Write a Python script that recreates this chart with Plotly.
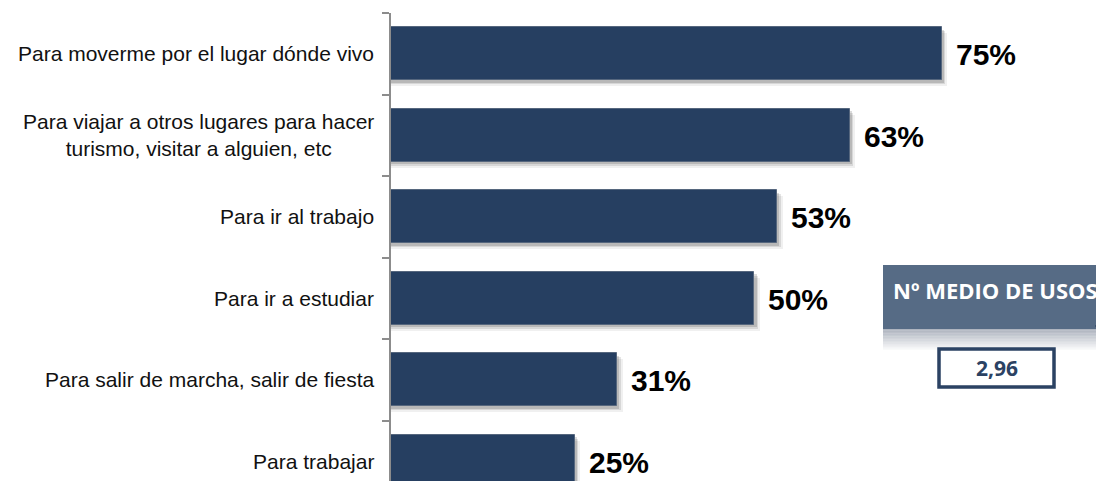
import plotly.graph_objects as go

categories = [
    "Para moverme por el lugar dónde vivo",
    "Para viajar a otros lugares para hacer<br>turismo, visitar a alguien, etc",
    "Para ir al trabajo",
    "Para ir a estudiar",
    "Para salir de marcha, salir de fiesta",
    "Para trabajar",
]
values = [75.0, 62.5, 52.6, 49.5, 30.8, 25.0]
value_labels = ["75%", "63%", "53%", "50%", "31%", "25%"]
summary_title = "Nº MEDIO DE USOS"
summary_value = "2,96"

OFF = 8  # page body margin
PAGE_W, PAGE_H = 1104, 481
W, H = PAGE_W - OFF, PAGE_H - OFF
PL, PT = 391, 13           # plot-area left / top in page pixels
ML, MT = PL - OFF, PT - OFF
PW, PH = W - ML, H - MT

BAR = "#263f61"
NAVY = "#2b4263"

ypos = list(range(len(categories)))

def px(p):
    return (p - PL) / PW

def py(p):
    return (PAGE_H - p) / PH

fig = go.Figure()

# soft drop shadows
for dx, dy, a in [(0.75, 0.075, 0.06), (0.5, 0.05, 0.10), (0.3, 0.03, 0.14)]:
    fig.add_trace(go.Bar(
        y=ypos, x=[v + dx for v in values], orientation="h",
        width=0.65, offset=-0.325 + dy,
        marker=dict(color=f"rgba(0,0,0,{a})", line=dict(width=0)),
        hoverinfo="skip", showlegend=False,
    ))

fig.add_trace(go.Bar(
    y=ypos, x=values, orientation="h", width=0.65,
    marker=dict(color=BAR, line=dict(color="#56677e", width=1)),
    showlegend=False,
))

annotations = []
for i, (c, v, t) in enumerate(zip(categories, values, value_labels)):
    annotations.append(dict(
        x=0, y=i, xref="x", yref="y", text=c, showarrow=False,
        xanchor="right", yanchor="middle", align="center", xshift=-15,
        font=dict(family="Arial, Liberation Sans", size=21, color="#111111"),
    ))
    annotations.append(dict(
        x=v, y=i, xref="x", yref="y", text=f"<b>{t}</b>", showarrow=False,
        xanchor="left", yanchor="middle", xshift=12, yshift=-1,
        font=dict(family="Arial, Liberation Sans", size=30, color="#000000"),
    ))

annotations.append(dict(
    x=px(995), y=py(290), xref="paper", yref="paper",
    text=f"<b>{summary_title}</b>", showarrow=False,
    xanchor="center", yanchor="middle",
    font=dict(family="Open Sans", size=22, color="white"),
))
annotations.append(dict(
    x=px(997), y=py(368), xref="paper", yref="paper",
    text=f"<b>{summary_value}</b>", showarrow=False,
    xanchor="center", yanchor="middle",
    font=dict(family="Open Sans", size=21, color=NAVY),
))

shapes = []
# header box
shapes.append(dict(type="rect", xref="paper", yref="paper",
                   x0=px(883), x1=px(1104), y0=py(329), y1=py(265),
                   fillcolor="#566b85", line=dict(width=0), layer="above"))
# gradient below header
steps = 14
for k in range(steps):
    y0 = 329 + k * 1.5
    alpha = 0.6 * (1 - k / steps)
    shapes.append(dict(type="rect", xref="paper", yref="paper",
                       x0=px(883), x1=px(1104), y0=py(y0 + 1.5), y1=py(y0),
                       fillcolor=f"rgba(120,130,148,{alpha:.3f})",
                       line=dict(width=0), layer="above"))
# small fold at right corner
shapes.append(dict(type="path", xref="paper", yref="paper",
                   path=f"M {px(1104)},{py(314)} L {px(1095)},{py(326)} L {px(1104)},{py(338)} Z",
                   fillcolor="#2f435e", line=dict(width=0), layer="above"))
shapes.append(dict(type="path", xref="paper", yref="paper",
                   path=f"M {px(1104)},{py(318)} L {px(1098)},{py(326)} L {px(1104)},{py(334)} Z",
                   fillcolor="white", line=dict(width=0), layer="above"))
# value box
shapes.append(dict(type="rect", xref="paper", yref="paper",
                   x0=px(939), x1=px(1054), y0=py(387), y1=py(349),
                   fillcolor="white", line=dict(color=NAVY, width=3.5), layer="above"))

fig.update_layout(
    width=W, height=H,
    margin=dict(l=ML, r=0, t=MT, b=0, pad=0),
    paper_bgcolor="white", plot_bgcolor="white",
    barmode="overlay", bargap=0,
    xaxis=dict(range=[0, PW / 7.34], visible=False, fixedrange=True),
    yaxis=dict(
        range=[PH / 81.5 - 0.5, -0.5],
        tickmode="array", tickvals=[i - 0.5 for i in range(len(categories) + 1)],
        ticks="outside", ticklen=7, tickwidth=1.5, tickcolor="#8c8c8c",
        showticklabels=False, showgrid=False, zeroline=False,
        showline=True, linecolor="#8c8c8c", linewidth=1.5,
        fixedrange=True,
    ),
    annotations=annotations,
    shapes=shapes,
    showlegend=False,
)

fig.write_html("out.html")
